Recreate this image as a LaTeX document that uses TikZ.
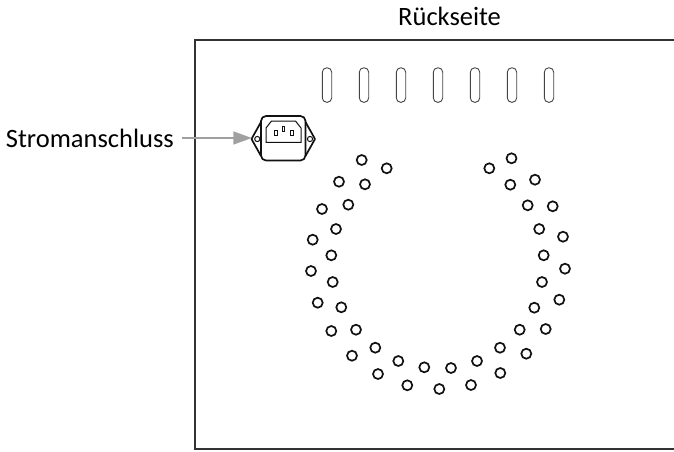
\documentclass[tikz,border=0pt]{standalone}
\usepackage{fontspec}
\setmainfont{Carlito}
\definecolor{linecol}{HTML}{111111}
\definecolor{framecol}{HTML}{333333}
\definecolor{slotcol}{HTML}{444444}
\definecolor{arrowcol}{HTML}{A0A0A0}
\tikzset{
  x=1pt,y=-1pt,
  frame/.style={draw=framecol,line width=1.8pt},
  slot/.style={draw=slotcol,line width=0.9pt,rounded corners=4.4pt},
  hole/.style={circle,draw=linecol,line width=1.7pt,minimum size=10pt,inner sep=0pt},
  label/.style={font=\fontsize{26.5}{30}\selectfont,inner sep=0pt,text=black},
  body/.style={draw=linecol,line width=1.7pt,line join=round},
  pin/.style={draw=linecol,line width=1pt},
  feed/.style={draw=arrowcol,line width=2.4pt},
  feedhead/.style={fill=arrowcol,draw=none}
}
\begin{document}
\begin{tikzpicture}
\useasboundingbox (0,0) rectangle (674,451);
\coordinate (ftr) at (674,40.3);
\coordinate (fbr) at (674,449);
\draw[frame] (ftr) -- (194.6,40.3) -- (194.6,449) -- (fbr);
\node[label,anchor=base west] (rueck) at (398,25) {Rückseite};
\node[label,anchor=east] (strom) at (174,138) {Stromanschluss};
\foreach \x in {327,364,401,438,475,512,549}
  \draw[slot] (\x-4.7,67.8) rectangle (\x+4.7,102.3);
\draw[body,rounded corners=5pt] (261,116) rectangle (305.5,160.5);
\draw[body] (261,122) -- (251.5,139) -- (261,156);
\draw[body] (305.5,122) -- (315,139) -- (305.5,156);
\draw[line width=1pt,draw=linecol] (257.3,139) circle (2.6);
\draw[line width=1pt,draw=linecol] (310,139) circle (2.6);
\draw[line width=1pt,draw=linecol] (266,142.3) -- (266,128) -- (271.5,121) -- (295.5,121) -- (301,128) -- (301,142.3) -- cycle;
\draw[pin] (274.5,130.2) rectangle (277.2,135.2);
\draw[pin] (282,126.5) rectangle (284.7,131.5);
\draw[pin] (290.5,130.2) rectangle (293.2,135.2);
\coordinate (tip) at (251.7,138);
\coordinate (neck) at (234,138);
\draw[feed] ([xshift=8pt]strom.east) -- (neck);
\fill[feedhead] (tip) -- (233.3,131.3) -- (233.3,144.7) -- cycle;
\foreach \x/\y in {
361.7/160,386.7/168.3,339/181.7,365/184.3,348.3/204.7,322/209,336/229,312.7/239.7,331.3/255.3,311/271,
332.7/282,317.7/302.7,341.3/307.3,331.3/331,356/329.7,375.3/347.7,352/355.7,398.3/361,424.3/367.3,378/374,407.3/385.3,439.3/389,
511.5/158.3,489.3/168.3,535/179.7,510.3/184.7,527.7/205.3,552.7/206.3,539.2/229,563/236.7,543.7/255.3,565/268.7,
542/282,559.3/299.7,534.3/307.7,519.7/329.7,545.7/329,500/347.7,526.3/353.7,477/361,451/368,500.3/373,471/385}
  \node[hole] at (\x,\y) {};
\end{tikzpicture}
\end{document}
